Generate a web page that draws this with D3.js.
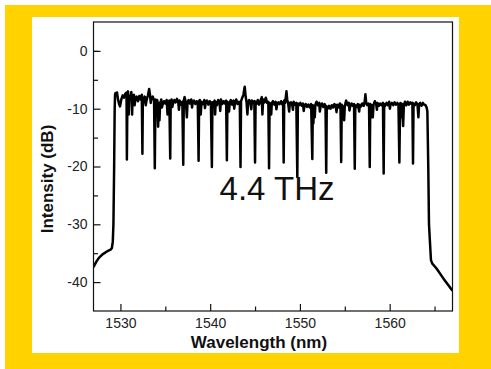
<!DOCTYPE html>
<html>
<head>
<meta charset="utf-8">
<style>
  body {margin: 0; background: #fff;}
  svg {display: block; font-family: "Liberation Sans", Arial, sans-serif;}
</style>
<script src="https://d3js.org/d3.v7.min.js"></script>
</head>
<body>
<svg id="plot1" width="491" height="369"></svg>
<script>
// axis ranges and ticks
var xDomain = [1527, 1567];
var yDomain = [-45, 5];
var xMajor = [1530, 1540, 1550, 1560];
var xMinor = [1535, 1545, 1555, 1565];
var yMajor = [0, -10, -20, -30, -40];
var yMinor = [0, -5, -15, -25, -35];

// rising edge of the spectrum
var leftEdge = [
  [1527.0, -37.4], [1527.3, -36.5], [1527.6, -35.8], [1528.0, -35.2], [1528.5, -34.7],
  [1528.9, -34.4], [1529.05, -34.1], [1529.15, -33.0], [1529.22, -30.0], [1529.3, -20.0],
  [1529.36, -10.0], [1529.4, -7.6]
];

// comb top with notches, read by hand
var combTop = [
  [1529.45, -7.3], [1529.55, -7.6], [1529.62, -7.2], [1529.72, -8.3], [1529.85, -9.2], [1529.95, -9.6],
  [1530.1, -8.4], [1530.25, -7.7], [1530.4, -8.1], [1530.55, -7.4], [1530.68, -7.2],
  [1530.72, -18.8], [1530.78, -7.6],
  [1530.85, -7.0], [1530.92, -11.0], [1530.98, -7.8], [1531.1, -8.3], [1531.22, -7.1], [1531.3, -11.0],
  [1531.36, -8.0], [1531.5, -7.6], [1531.58, -9.4], [1531.65, -8.5], [1531.8, -7.9], [1531.95, -8.7], [1532.1, -7.8],
  [1532.25, -8.4], [1532.38, -7.6],
  [1532.45, -17.8], [1532.5, -8.2],
  [1532.6, -8.9], [1532.68, -7.9], [1532.75, -8.0], [1532.82, -9.4], [1532.9, -8.6], [1533.05, -7.8], [1533.2, -6.6], [1533.3, -7.6],
  [1533.38, -9.0], [1533.45, -8.3], [1533.6, -7.9], [1533.75, -8.6],
  [1533.83, -20.3], [1533.9, -8.4],
  [1534.0, -9.4], [1534.1, -8.5], [1534.2, -13.1], [1534.28, -9.0], [1534.35, -12.0], [1534.42, -9.2],
  [1534.55, -8.4], [1534.62, -9.8], [1534.7, -9.3], [1534.85, -8.7], [1535.0, -9.1], [1535.15, -8.5], [1535.25, -11.0],
  [1535.33, -8.9], [1535.45, -8.6],
  [1535.55, -18.6], [1535.6, -8.9],
  [1535.7, -8.4], [1535.78, -9.7], [1535.85, -9.2], [1536.0, -8.5], [1536.15, -8.9], [1536.3, -8.3], [1536.45, -9.0],
  [1536.52, -10.2], [1536.6, -8.6], [1536.75, -9.3], [1536.9, -8.8],
  [1537.0, -19.7], [1537.06, -8.6],
  [1537.15, -8.0], [1537.3, -9.0], [1537.4, -11.5], [1537.48, -8.9], [1537.6, -8.5], [1537.75, -9.1],
  [1537.9, -8.4], [1537.98, -9.8], [1538.05, -9.0], [1538.2, -8.6], [1538.35, -9.2], [1538.5, -8.7], [1538.62, -9.0],
  [1538.71, -19.0], [1538.77, -8.7],
  [1538.85, -8.5], [1538.95, -11.0], [1539.03, -8.8], [1539.2, -9.2], [1539.35, -8.5], [1539.42, -9.9], [1539.5, -9.0],
  [1539.65, -8.6], [1539.8, -9.3], [1539.95, -8.7], [1540.08, -9.1],
  [1540.19, -20.1], [1540.25, -8.9],
  [1540.35, -9.3], [1540.5, -8.6], [1540.55, -11.0], [1540.62, -8.8], [1540.75, -9.4], [1540.9, -8.5],
  [1541.05, -9.0], [1541.12, -10.4], [1541.2, -8.4], [1541.35, -9.2], [1541.5, -8.7], [1541.65, -9.1], [1541.78, -8.6],
  [1541.86, -18.9], [1541.92, -8.8],
  [1542.0, -9.2], [1542.1, -10.5], [1542.18, -8.9], [1542.3, -8.5], [1542.45, -9.3], [1542.6, -8.6],
  [1542.68, -10.0], [1542.75, -9.1], [1542.9, -8.4], [1543.05, -9.2], [1543.2, -8.8], [1543.3, -9.0],
  [1543.38, -20.1], [1543.44, -8.7],
  [1543.55, -8.2], [1543.7, -7.6], [1543.85, -6.2], [1543.95, -7.9], [1544.05, -8.8], [1544.15, -11.0],
  [1544.22, -8.9], [1544.35, -8.5], [1544.5, -9.2], [1544.58, -10.1], [1544.65, -8.6], [1544.8, -9.0], [1544.92, -8.7],
  [1545.0, -19.3], [1545.06, -8.8],
  [1545.15, -9.2], [1545.3, -8.5], [1545.45, -9.3], [1545.6, -8.6], [1545.75, -8.0], [1545.82, -11.0],
  [1545.9, -8.4], [1546.05, -8.9], [1546.2, -8.1], [1546.35, -9.0], [1546.48, -8.8],
  [1546.56, -20.3], [1546.62, -9.0],
  [1546.7, -9.4], [1546.8, -11.0], [1546.87, -9.0], [1547.0, -8.7], [1547.15, -9.3], [1547.3, -8.8],
  [1547.38, -10.1], [1547.45, -9.4], [1547.6, -8.9], [1547.75, -9.2], [1547.9, -8.7], [1548.05, -9.3], [1548.12, -8.9],
  [1548.19, -19.3], [1548.25, -8.6],
  [1548.35, -9.0], [1548.5, -7.0], [1548.58, -8.4], [1548.7, -9.2], [1548.8, -10.5], [1548.88, -9.0],
  [1549.0, -8.9], [1549.15, -9.4], [1549.22, -10.2], [1549.3, -8.8], [1549.45, -9.3], [1549.6, -9.0],
  [1549.71, -21.8], [1549.77, -9.1],
  [1549.9, -9.4], [1550.05, -9.0], [1550.2, -9.5], [1550.35, -9.1], [1550.42, -10.4], [1550.5, -9.6], [1550.65, -9.2],
  [1550.8, -9.7], [1550.95, -9.3], [1551.1, -9.8], [1551.25, -9.2],
  [1551.38, -18.7], [1551.44, -9.4],
  [1551.5, -12.5], [1551.57, -9.6], [1551.65, -11.5], [1551.72, -9.3], [1551.85, -8.8], [1552.0, -9.4],
  [1552.15, -9.0], [1552.22, -10.5], [1552.3, -9.6], [1552.45, -9.1], [1552.6, -9.7], [1552.75, -9.2], [1552.85, -9.5],
  [1552.93, -21.1], [1552.99, -9.6],
  [1553.1, -10.0], [1553.25, -9.5], [1553.4, -10.0], [1553.55, -9.4], [1553.7, -9.8], [1553.85, -9.2],
  [1554.0, -9.7], [1554.08, -10.6], [1554.15, -9.3], [1554.3, -9.8], [1554.45, -9.1], [1554.52, -9.5],
  [1554.6, -19.2], [1554.66, -9.3],
  [1554.8, -11.5], [1554.85, -9.6], [1554.93, -12.0], [1555.0, -9.5], [1555.15, -8.6], [1555.3, -9.4],
  [1555.45, -9.0], [1555.52, -10.3], [1555.6, -9.6], [1555.75, -9.1], [1555.9, -9.5], [1556.03, -9.2],
  [1556.11, -20.4], [1556.17, -9.4],
  [1556.3, -9.7], [1556.45, -9.2], [1556.6, -10.5], [1556.68, -9.3], [1556.8, -9.6], [1556.95, -9.1],
  [1557.1, -9.5], [1557.2, -9.0], [1557.3, -7.5], [1557.38, -9.0], [1557.5, -9.4], [1557.62, -9.1],
  [1557.7, -9.3],
  [1557.78, -20.1], [1557.84, -9.2],
  [1557.95, -11.5], [1558.02, -9.4], [1558.12, -11.5], [1558.2, -9.3], [1558.35, -8.7], [1558.5, -9.3],
  [1558.58, -10.2], [1558.65, -9.0], [1558.8, -9.5], [1558.95, -9.1], [1559.1, -9.4], [1559.25, -9.0],
  [1559.33, -21.2], [1559.39, -9.2],
  [1559.5, -9.5], [1559.65, -9.0], [1559.8, -9.4], [1559.95, -8.8], [1560.02, -10.0], [1560.1, -9.3], [1560.25, -9.0],
  [1560.4, -9.4], [1560.55, -8.9], [1560.7, -9.3], [1560.85, -9.0], [1560.98, -9.3],
  [1561.08, -19.3], [1561.14, -11.5], [1561.2, -9.0],
  [1561.3, -11.5], [1561.38, -9.2], [1561.5, -13.0], [1561.58, -9.4], [1561.7, -8.8], [1561.85, -9.4],
  [1562.0, -8.8], [1562.15, -9.3], [1562.3, -8.9], [1562.45, -9.2], [1562.53, -9.0],
  [1562.6, -19.5], [1562.66, -9.1],
  [1562.8, -9.4], [1562.95, -8.9], [1563.1, -9.3], [1563.2, -11.5], [1563.28, -9.2], [1563.4, -9.0],
  [1563.55, -9.5], [1563.7, -9.0], [1563.85, -9.3], [1564.0, -9.4], [1564.12, -9.8]
];

// falling edge
var rightEdge = [
  [1564.2, -10.5], [1564.3, -20.0], [1564.38, -30.0], [1564.6, -36.2], [1564.75, -36.8],
  [1565.2, -37.6], [1566.0, -39.4], [1567.0, -41.5]
];

var label = "4.4 THz";

var svg = d3.select("#plot1");

// yellow frame and inner white card
svg.append("rect").attr("x", 5).attr("y", 5).attr("width", 486).attr("height", 364).style("fill", "#ffd200");
svg.append("rect").attr("x", 32).attr("y", 17).attr("width", 427).attr("height", 336).style("fill", "#fff");

var pLeft = 93.5, pRight = 452.5, pTop = 22, pBottom = 311;

var x = d3.scaleLinear().domain(xDomain).range([pLeft, pRight]);
var y = d3.scaleLinear().domain(yDomain).range([pBottom, pTop]);

svg.append("clipPath").attr("id", "clip")
  .append("rect").attr("x", pLeft).attr("y", pTop).attr("width", pRight - pLeft).attr("height", pBottom - pTop);

var spectrum = leftEdge.concat(combTop, rightEdge);

var line = d3.line()
  .x(function(d) { return x(d[0]); })
  .y(function(d) { return y(d[1]); });

svg.append("path")
  .datum(spectrum)
  .attr("clip-path", "url(#clip)")
  .attr("d", line)
  .style("fill", "none")
  .style("stroke", "#000")
  .style("stroke-width", 2.5)
  .style("stroke-linejoin", "round");

// frame
svg.append("rect")
  .attr("x", pLeft).attr("y", pTop).attr("width", pRight - pLeft).attr("height", pBottom - pTop)
  .style("fill", "none").style("stroke", "#111").style("stroke-width", 1.2);

// ticks point inward
var xAxis = svg.append("g").attr("transform", "translate(0," + pBottom + ")")
  .call(d3.axisBottom(x).tickValues(xMajor).tickSize(-7).tickPadding(7).tickFormat(d3.format("d")));
var xAxisMinor = svg.append("g").attr("transform", "translate(0," + pBottom + ")")
  .call(d3.axisBottom(x).tickValues(xMinor).tickSize(-4.5).tickFormat(""));
var yAxis = svg.append("g").attr("transform", "translate(" + pLeft + ",0)")
  .call(d3.axisLeft(y).tickValues(yMajor).tickSize(-7).tickPadding(6)
    .tickFormat(function(d) { return String(d); }));
var yAxisMinor = svg.append("g").attr("transform", "translate(" + pLeft + ",0)")
  .call(d3.axisLeft(y).tickValues(yMinor).tickSize(-4.5).tickFormat(""));

[xAxis, xAxisMinor, yAxis, yAxisMinor].forEach(function(g) {
  g.select(".domain").remove();
  g.selectAll("line").style("stroke", "#111").style("stroke-width", 1.2);
  g.selectAll("text").style("font-family", "Liberation Sans, Arial, sans-serif")
    .style("font-size", "14px").style("fill", "#222");
});

svg.append("text")
  .attr("x", 259).attr("y", 348)
  .attr("text-anchor", "middle")
  .style("font-size", "17px").style("font-weight", "bold").style("fill", "#111")
  .text("Wavelength (nm)");

svg.append("text")
  .attr("transform", "translate(53,179) rotate(-90)")
  .attr("text-anchor", "middle")
  .style("font-size", "17px").style("font-weight", "bold").style("fill", "#111")
  .text("Intensity (dB)");

svg.append("text")
  .attr("x", 277).attr("y", 200)
  .attr("text-anchor", "middle")
  .style("font-size", "33px").style("fill", "#111")
  .text(label);
</script>
</body>
</html>
